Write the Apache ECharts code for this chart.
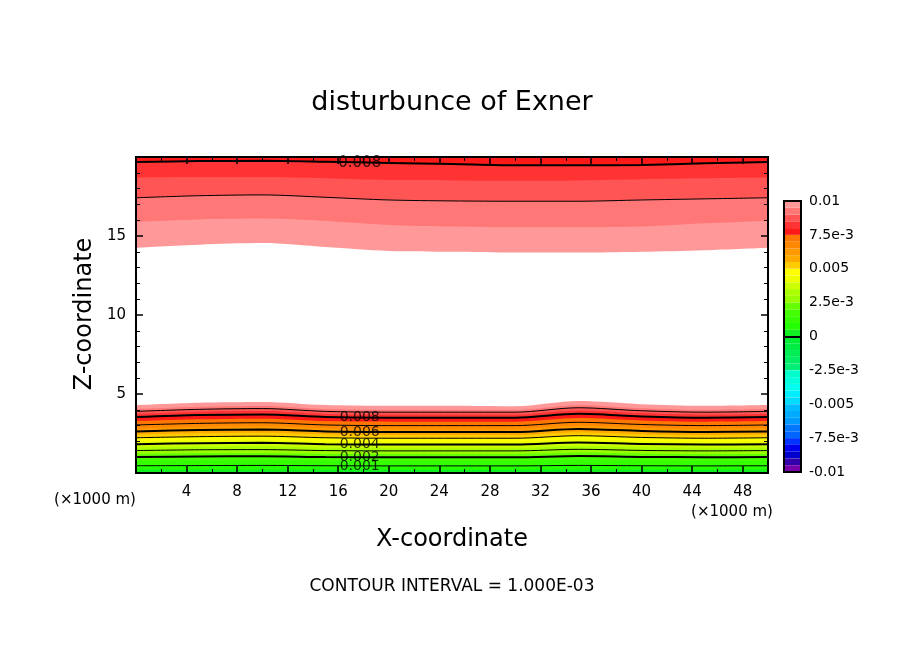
<!DOCTYPE html>
<html><head><meta charset="utf-8">
<script src="https://cdn.jsdelivr.net/npm/echarts@6/dist/echarts.min.js"></script>
<style>html,body{margin:0;background:#fff}#c{width:904px;height:654px}</style>
</head><body><div id="c"></div>
<script>
const xs = [0,5,10,15,20,25,30,35,40,45,50];
// lower region: contour heights (z, km) per level
const lowLevels = [0.0005,0.001,0.0015,0.002,0.0025,0.003,0.0035,0.004,0.0045,0.005,0.0055,0.006,0.0065,0.007,0.0075,0.008,0.0085,0.009,0.0095,0.01];
const lowHeights = [
 [0.20,0.21,0.21,0.20,0.20,0.20,0.20,0.21,0.20,0.20,0.20],
 [0.46,0.47,0.48,0.46,0.45,0.45,0.45,0.48,0.46,0.45,0.46],
 [0.76,0.79,0.80,0.76,0.75,0.75,0.75,0.80,0.77,0.75,0.76],
 [1.01,1.05,1.06,1.01,1.00,1.00,1.00,1.07,1.02,1.00,1.01],
 [1.21,1.26,1.27,1.21,1.20,1.20,1.20,1.29,1.23,1.20,1.21],
 [1.42,1.47,1.48,1.42,1.40,1.40,1.40,1.50,1.43,1.40,1.42],
 [1.62,1.68,1.70,1.62,1.60,1.60,1.60,1.71,1.64,1.60,1.62],
 [1.82,1.89,1.91,1.82,1.80,1.80,1.80,1.93,1.84,1.80,1.82],
 [2.02,2.10,2.12,2.02,2.00,2.00,2.00,2.14,2.05,2.00,2.02],
 [2.23,2.30,2.33,2.23,2.20,2.20,2.20,2.36,2.25,2.20,2.23],
 [2.43,2.51,2.54,2.43,2.40,2.40,2.40,2.57,2.46,2.40,2.43],
 [2.63,2.72,2.75,2.63,2.60,2.60,2.60,2.79,2.66,2.60,2.63],
 [2.83,2.93,2.97,2.83,2.80,2.80,2.80,3.00,2.87,2.80,2.83],
 [3.04,3.14,3.18,3.04,3.00,3.00,3.00,3.21,3.07,3.00,3.04],
 [3.29,3.40,3.44,3.29,3.25,3.25,3.25,3.48,3.33,3.25,3.29],
 [3.54,3.67,3.71,3.54,3.50,3.50,3.50,3.75,3.58,3.50,3.54],
 [3.74,3.88,3.92,3.74,3.70,3.70,3.70,3.96,3.79,3.70,3.74],
 [3.90,4.03,4.08,3.90,3.85,3.85,3.85,4.13,3.94,3.85,3.90],
 [4.05,4.19,4.24,4.05,4.00,4.00,4.00,4.29,4.10,4.00,4.05],
 [4.30,4.45,4.50,4.30,4.25,4.25,4.22,4.55,4.35,4.25,4.30]
];
// upper region contours
const upLevels = [0.01,0.0095,0.009,0.0085,0.008];
const upHeights = [
 [14.26,14.45,14.55,14.30,14.05,14.00,13.95,13.95,14.00,14.10,14.26],
 [15.90,16.05,16.10,15.95,15.70,15.60,15.55,15.55,15.60,15.80,15.97],
 [17.42,17.55,17.60,17.45,17.28,17.22,17.20,17.20,17.28,17.35,17.42],
 [18.70,18.73,18.73,18.65,18.54,18.52,18.50,18.52,18.59,18.65,18.70],
 [19.68,19.74,19.76,19.70,19.62,19.55,19.47,19.47,19.50,19.60,19.68]
];
const posColors = ['#11ee22','#22ff00','#33ff00','#44ff00','#66ff00','#99ff00','#aaff00','#ccff00','#eeff00','#ffff00','#ffcc00','#ffaa00','#ff9900','#ff8800','#ff7700','#ff4400','#ff3300','#ff2200','#ff1100','#ff0a0a'];
const topColors = ['#ff1a1a','#ff3333','#ff5555','#ff7777','#ff9999'];
const negColors = ['#00ee33','#00ee44','#00ee55','#00ee66','#00ee77','#00ffcc','#00ffdd','#00ffee','#00eeff','#00ddff','#00bbff','#00aaff','#0099ff','#0077ff','#0066ff','#0033ff','#0000ee','#0000cc','#3300aa','#7700aa'];
const cbTicks = {'0.01':'0.01','0.0075':'7.5e-3','0.005':'0.005','0.0025':'2.5e-3','0':'0','-0.0025':'-2.5e-3','-0.005':'-0.005','-0.0075':'-7.5e-3','-0.01':'-0.01'};
const labelLevels = ['0.008','0.006','0.004','0.002','0.001'];

function bandColor(lv){
  const i = Math.round(lv/0.0005)-1;
  if (i>=15) return topColors[i-15];
  return posColors[i];
}
const F = 'DejaVu Sans';
const series = [];
for (let k=lowLevels.length-1;k>=0;k--){
  series.push({type:'line',xAxisIndex:0,yAxisIndex:0,smooth:0.3,showSymbol:false,silent:true,
    data:xs.map((x,i)=>[x,lowHeights[k][i]]),lineStyle:{width:0},
    areaStyle:{color:bandColor(lowLevels[k]),opacity:1,origin:'start'}});
}
for (let k=0;k<upLevels.length;k++){
  const lv = upLevels[k];
  const col = topColors[Math.round(lv/0.0005)-16];
  series.push({type:'line',xAxisIndex:0,yAxisIndex:0,smooth:0.3,showSymbol:false,silent:true,
    data:xs.map((x,i)=>[x,upHeights[k][i]]),lineStyle:{width:0},
    areaStyle:{color:col,opacity:1,origin:'end'}});
}
lowLevels.forEach((lv,k)=>{
  const m = Math.round(lv/0.0005);
  if (m%2!==0 || m===20) return;
  series.push({type:'line',smooth:0.3,showSymbol:false,silent:true,
    data:xs.map((x,i)=>[x,lowHeights[k][i]]),
    lineStyle:{color:'#000',width:(m%4===0)?2:1}});
});
upLevels.forEach((lv,k)=>{
  const m = Math.round(lv/0.0005);
  if (m%2!==0 || m===20) return;
  series.push({type:'line',smooth:0.3,showSymbol:false,silent:true,
    data:xs.map((x,i)=>[x,upHeights[k][i]]),
    lineStyle:{color:'#000',width:(m===16)?2:1}});
});
const lab = [];
labelLevels.forEach(t=>{
  const k = lowLevels.indexOf(parseFloat(t));
  lab.push({value:[17.7,lowHeights[k][4]],name:t});
});
series.push({type:'scatter',symbolSize:0,data:lab,silent:true,z:5,
  label:{show:true,formatter:p=>p.name,color:'#000',fontFamily:F,fontSize:14,position:'inside'}});
series.push({type:'scatter',symbolSize:0,silent:true,z:5,data:[{value:[17.7,upHeights[4][4]],name:'0.008'}],
  label:{show:true,formatter:p=>p.name,color:'#000',fontFamily:F,fontSize:15,position:'inside'}});
series.push({type:'line',xAxisIndex:2,yAxisIndex:2,data:[[0,0]],showSymbol:false,silent:true,lineStyle:{width:0}});
for (let i=0;i<20;i++){
  series.push({type:'bar',xAxisIndex:1,yAxisIndex:1,stack:'cb',barWidth:'100%',silent:true,
    data:[0.0005],itemStyle:{color:i>=15?topColors[i-15]:posColors[i]}});
}
for (let i=0;i<20;i++){
  series.push({type:'bar',xAxisIndex:1,yAxisIndex:1,stack:'cb',barWidth:'100%',silent:true,
    data:[-0.0005],itemStyle:{color:negColors[i]}});
}
series.push({type:'line',xAxisIndex:1,yAxisIndex:1,data:[],silent:true,
  markLine:{symbol:'none',silent:true,label:{show:false},lineStyle:{color:'#000',width:2,type:'solid'},
    data:[-0.0075,-0.005,-0.0025,0,0.0025,0.005,0.0075].map(v=>({yAxis:v}))}});

const axisFrame = {show:true,onZero:false,lineStyle:{color:'#000',width:2}};
const tickIn = {show:true,inside:true,length:7,lineStyle:{color:'#000',width:1.5}};
const minorX = {show:true,splitNumber:2,length:4,lineStyle:{color:'#000'}};
const minorY = {show:true,splitNumber:5,length:4,lineStyle:{color:'#000'}};
const opt = {
  animation:false,
  grid:[{left:136,right:136,top:157,bottom:181},{left:784,right:103,top:201,bottom:182}],
  xAxis:[
    {type:'value',gridIndex:0,z:20,min:0,max:50,interval:4,axisLine:axisFrame,axisTick:tickIn,
     minorTick:minorX,splitLine:{show:false},
     axisLabel:{fontFamily:F,fontSize:15,color:'#000',margin:12,formatter:v=>(v===0||v===50)?'':String(v)}},
    {type:'category',gridIndex:1,data:['c'],show:false},
    {type:'value',gridIndex:0,z:20,min:0,max:50,interval:4,position:'top',axisLine:axisFrame,axisTick:tickIn,
     minorTick:minorX,axisLabel:{show:false},splitLine:{show:false}}
  ],
  yAxis:[
    {type:'value',gridIndex:0,z:20,min:0,max:20,interval:5,axisLine:axisFrame,axisTick:tickIn,
     minorTick:minorY,splitLine:{show:false},
     axisLabel:{fontFamily:F,fontSize:15,color:'#000',margin:10,formatter:v=>(v===0||v===20)?'':String(v)}},
    {type:'value',gridIndex:1,min:-0.01,max:0.01,interval:0.0025,position:'right',
     axisLine:axisFrame,axisTick:{show:false},splitLine:{show:false},
     axisLabel:{fontFamily:F,fontSize:14,color:'#000',margin:8,
       formatter:v=>cbTicks[String(Math.round(v*10000)/10000)]||''}},
    {type:'value',gridIndex:0,z:20,min:0,max:20,interval:5,position:'right',axisLine:axisFrame,axisTick:tickIn,
     minorTick:minorY,axisLabel:{show:false},splitLine:{show:false}}
  ],
  series:series,
  graphic:[
    {type:'rect',shape:{x:136,y:157,width:632,height:316},style:{fill:'none',stroke:'#000',lineWidth:2},z:100},
    {type:'rect',shape:{x:784,y:201,width:17,height:271},style:{fill:'none',stroke:'#000',lineWidth:2},z:100},
    {type:'text',x:452,y:103,style:{text:'disturbunce of Exner',font:'27px "DejaVu Sans"',fill:'#000',align:'center',verticalAlign:'middle'}},
    {type:'text',x:85,y:314,rotation:Math.PI/2,style:{text:'Z-coordinate',font:'24px "DejaVu Sans"',fill:'#000',align:'center',verticalAlign:'middle'}},
    {type:'text',x:452,y:540,style:{text:'X-coordinate',font:'24px "DejaVu Sans"',fill:'#000',align:'center',verticalAlign:'middle'}},
    {type:'text',x:95,y:500,style:{text:'(×1000 m)',font:'15px "DejaVu Sans"',fill:'#000',align:'center',verticalAlign:'middle'}},
    {type:'text',x:732,y:512,style:{text:'(×1000 m)',font:'15px "DejaVu Sans"',fill:'#000',align:'center',verticalAlign:'middle'}},
    {type:'text',x:452,y:587,style:{text:'CONTOUR INTERVAL = 1.000E-03',font:'17px "DejaVu Sans"',fill:'#000',align:'center',verticalAlign:'middle'}}
  ]
};
echarts.init(document.getElementById('c')).setOption(opt);
</script></body></html>
